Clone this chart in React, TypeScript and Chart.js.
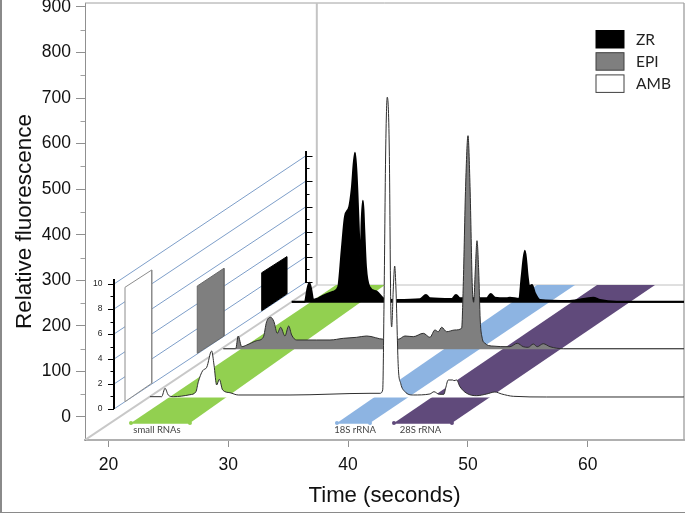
import { useEffect, useRef } from 'react';
import { Chart, registerables } from 'chart.js';

Chart.register(...registerables);

const TIME_MIN = 18.04;
const TIME_MAX = 68.04;
const VALUE_MIN = -50.5;
const VALUE_MAX = 908.7;

const timeTicks = [20, 30, 40, 50, 60];
const valueTicks = [0, 100, 200, 300, 400, 500, 600, 700, 800, 900];
const minorValueTicks = [50, 150, 250, 350, 450, 550, 650, 750, 850];

const ambTime = [23.46, 24.44, 24.72, 24.99, 25.41, 26.8, 27.3, 27.5, 27.86, 28.2, 28.61, 28.81, 29.03, 29.25, 29.53, 30.14, 30.83, 35.15, 41.83, 42.66, 42.89, 43.0, 43.14, 43.27, 43.44, 43.56, 43.64, 43.77, 43.89, 44.0, 44.19, 44.39, 44.75, 45.44, 46.83, 47.17, 47.61, 48.0, 48.14, 48.36, 48.73, 48.84, 49.06, 49.34, 49.9, 50.73, 51.57, 52.26, 52.82, 53.79, 56.58, 68.04];
const ambValue = [44.6, 44.6, 63, 48.3, 44.6, 48.9, 55.5, 77.5, 101.6, 109.1, 144.9, 114.1, 70.2, 82.8, 59.3, 53.3, 48.3, 48.3, 52, 52, 59.3, 250, 586, 702, 586, 250, 197.6, 278.8, 331.4, 278.8, 110.4, 74, 55.5, 48.3, 50.5, 55.5, 49.8, 49.8, 63, 81.2, 81.2, 79.7, 81.2, 66.5, 52, 46.8, 50.5, 54.9, 50.5, 45.4, 43.9, 43.9];
const ambBase = 43;

const epiTime = [29.58, 30.62, 30.83, 31.12, 31.54, 32.37, 32.92, 33.2, 33.54, 33.81, 34.09, 34.37, 34.73, 35.04, 35.29, 35.71, 37.38, 38.49, 39.6, 40.72, 41.55, 43.0, 44.19, 44.75, 45.44, 46.28, 46.83, 47.25, 47.53, 47.81, 48.23, 48.92, 49.48, 49.61, 49.81, 50.01, 50.18, 50.37, 50.48, 50.62, 50.76, 50.9, 51.03, 51.2, 51.43, 51.99, 53.51, 54.12, 54.62, 55.04, 55.46, 55.79, 56.29, 56.85, 57.96, 68.04];
const epiValue = [149.9, 149.9, 177.8, 154.3, 158, 167.5, 174.9, 209.2, 218.8, 209.2, 183.7, 196.9, 177.8, 199.7, 180, 169, 169, 169, 172.7, 174.9, 177.8, 170.6, 170.6, 177.8, 176.3, 183.7, 174.9, 191, 187.2, 196.9, 187.2, 191, 194.7, 286, 505.5, 617.5, 505.5, 286, 251.8, 322.7, 387, 322.7, 212.9, 172.7, 161.8, 155.8, 154.3, 161.8, 154.3, 153, 160.2, 154.3, 160.9, 154.3, 149.9, 149.9];
const epiBase = 148.6;

const zrTime = [35.29, 36.4, 36.59, 36.76, 36.93, 37.09, 37.51, 37.93, 38.76, 39.18, 39.47, 39.74, 40.1, 40.3, 40.58, 40.77, 40.93, 41.05, 41.13, 41.24, 41.35, 41.49, 41.77, 42.39, 42.94, 44.05, 46.0, 46.5, 46.83, 48.65, 49.01, 49.34, 51.57, 51.9, 52.26, 53.24, 53.51, 54.29, 54.49, 54.76, 54.99, 55.12, 55.35, 55.6, 56.01, 58.52, 60.47, 61.03, 62.42, 68.04];
const zrValue = [253.1, 253.1, 278.8, 294.8, 278.8, 256.8, 260.5, 266.3, 275, 286, 366.6, 439.7, 461.6, 498.3, 580.1, 498.3, 388.5, 340.9, 425.2, 474.8, 410.5, 329.9, 286, 275, 260.5, 256.8, 258.4, 267.8, 260.5, 259, 267.8, 260.5, 260.5, 270, 261.9, 260.5, 261.9, 259, 308, 365, 308, 286, 289.7, 271.5, 256.8, 254.6, 261.9, 256.8, 253.1, 253.1];
const zrBase = 250.5;

const bandValue = [-13.2, -13.2, 289.7, 289.7];
const greenBandTime = [21.88, 26.8, 43.08, 38.99];
const blueBandTime = [39.07, 41.83, 58.94, 55.77];
const purpleBandTime = [43.83, 48.67, 65.62, 60.78];

const bandNames = ['small RNAs', '18S rRNA', '28S rRNA'];
const bandNameTime = [24.05, 40.58, 46.04];
const bandNameValue = -28.5;

const wallNearTime = 20.46;
const wallFarTime = 36.49;
const depthLabels = ['0', '2', '4', '6', '8', '10'];
const nearMajor = [17.6, 72.4, 127.2, 182.1, 237, 291.9];
const farMajor = [296.3, 351.8, 406.7, 461.6, 518, 573.5];
const nearMinor = [45, 99.9, 154.7, 209.6, 264.5];
const farMinor = [324.2, 379.1, 434, 489.7, 545.7];
const nearAxisEnds = [17.6, 302.9];
const farAxisEnds = [294, 583.8];

const ambBarTime = [21.38, 21.38, 23.61, 23.61];
const ambBarValue = [33.6, 284.7, 322.7, 74];
const epiBarTime = [27.41, 27.41, 29.64, 29.64];
const epiBarValue = [139.8, 287.5, 326.4, 177.8];
const zrBarTime = [32.79, 32.79, 34.88, 34.88];
const zrBarValue = [233.3, 316.7, 351.8, 270];

const floorCornerTime = 37.39;
const floorCornerValue = 289.7;

const legendNames = ['ZR', 'EPI', 'AMB'];
const legendFills = ['#000000', '#7f7f7f', '#ffffff'];
const legendEdges = ['#000000', '#404040', '#404040'];

const zip = (xs: number[], ys: number[]) => xs.map((x, i) => ({ x, y: ys[i] }));

const line = (data: any[], color: string, width = 1, extra: any = {}) => ({
  type: 'scatter',
  data,
  showLine: true,
  pointRadius: 0,
  pointHoverRadius: 0,
  borderColor: color,
  borderWidth: width,
  tension: 0,
  fill: false,
  ...extra,
});

const polygon = (xs: number[], ys: number[], color: string, edge: string, width: number) => {
  const pts = zip(xs, ys);
  pts.push(pts[0]);
  return line(pts, edge, width, { backgroundColor: color, fill: 'shape', borderJoinStyle: 'miter' });
};

const trace = (xs: number[], ys: number[], base: number, color: string, edge: string, width: number) =>
  line(zip(xs, ys), edge, width, {
    backgroundColor: color,
    fill: { value: base },
    borderJoinStyle: 'round',
    cubicInterpolationMode: 'monotone',
  });

const bandFeet: [number[], string][] = [
  [greenBandTime, '#92d050'],
  [blueBandTime, '#8db4e2'],
  [purpleBandTime, '#604a7b'],
];

const wallDecor = {
  id: 'wallDecor',
  afterDatasetsDraw(chart: any) {
    const { ctx, scales } = chart;
    const { x, y } = scales;
    ctx.save();
    ctx.strokeStyle = '#000';
    ctx.lineWidth = 1;
    const tick = (t: number, v: number, len: number) => {
      const px = x.getPixelForValue(t);
      const py = Math.round(y.getPixelForValue(v)) + 0.5;
      ctx.beginPath();
      ctx.moveTo(px, py);
      ctx.lineTo(px + len, py);
      ctx.stroke();
    };
    nearMajor.forEach((v) => tick(wallNearTime, v, -6));
    nearMinor.forEach((v) => tick(wallNearTime, v, -3.5));
    farMajor.forEach((v) => tick(wallFarTime, v, 6.5));
    farMinor.forEach((v) => tick(wallFarTime, v, 3.5));

    ctx.strokeStyle = '#a0a0a0';
    minorValueTicks.forEach((v) => {
      const py = Math.round(y.getPixelForValue(v)) + 0.5;
      ctx.beginPath();
      ctx.moveTo(chart.chartArea.left - 4.5, py);
      ctx.lineTo(chart.chartArea.left, py);
      ctx.stroke();
    });

    bandFeet.forEach(([times, color]) => {
      ctx.fillStyle = color;
      [times[0], times[1]].forEach((t) => {
        ctx.beginPath();
        ctx.arc(x.getPixelForValue(t), y.getPixelForValue(bandValue[0]), 2, 0, Math.PI * 2);
        ctx.fill();
      });
    });

    ctx.fillStyle = '#222';
    ctx.font = '8.5px "Liberation Sans"';
    ctx.textAlign = 'right';
    ctx.textBaseline = 'middle';
    depthLabels.forEach((label, i) => {
      ctx.fillText(label, x.getPixelForValue(wallNearTime) - 5.5 - 6, y.getPixelForValue(nearMajor[i]));
    });

    ctx.fillStyle = '#444';
    ctx.font = '9.5px Lato';
    ctx.textAlign = 'center';
    bandNames.forEach((name, i) => {
      ctx.fillText(name, x.getPixelForValue(bandNameTime[i]), y.getPixelForValue(bandNameValue));
    });

    ctx.font = '15.5px Lato';
    ctx.textAlign = 'left';
    legendNames.forEach((name, i) => {
      const top = 30.5 + i * 22.2;
      ctx.fillStyle = legendFills[i];
      ctx.strokeStyle = legendEdges[i];
      ctx.lineWidth = 1;
      ctx.fillRect(596, top, 28, 17.5);
      ctx.strokeRect(596, top, 28, 17.5);
      ctx.fillStyle = '#222';
      ctx.fillText(name, 636, top + 9);
    });
    ctx.restore();
  },
};

export default function App() {
  const ref = useRef<HTMLCanvasElement>(null);

  useEffect(() => {
    const datasets: any[] = [
      // topmost first: Chart.js paints the last dataset first
      line(zip([wallNearTime, wallNearTime], nearAxisEnds), '#000', 2),
      line(zip([wallFarTime, wallFarTime], farAxisEnds), '#000', 2),
      trace(ambTime, ambValue, ambBase, '#ffffff', '#2e2e2e', 1),
      trace(epiTime, epiValue, epiBase, '#7f7f7f', '#2e2e2e', 1),
      trace(zrTime, zrValue, zrBase, '#000000', '#000000', 2),
      line(zip([greenBandTime[0], greenBandTime[1]], [bandValue[0], bandValue[1]]), '#92d050', 1.5),
      line(zip([blueBandTime[0], blueBandTime[1]], [bandValue[0], bandValue[1]]), '#8db4e2', 1.5),
      line(zip([purpleBandTime[0], purpleBandTime[1]], [bandValue[0], bandValue[1]]), '#604a7b', 1.5),
      polygon(purpleBandTime, bandValue, '#604a7b', '#604a7b', 0),
      polygon(blueBandTime, bandValue, '#8db4e2', '#8db4e2', 0),
      polygon(greenBandTime, bandValue, '#92d050', '#92d050', 0),
      polygon(ambBarTime, ambBarValue, '#ffffff', '#8c8c8c', 1),
      polygon(epiBarTime, epiBarValue, '#7f7f7f', '#6a6a6a', 1),
      polygon(zrBarTime, zrBarValue, '#000000', '#000000', 1),
      ...nearMajor.map((v, i) => line(zip([wallNearTime, wallFarTime], [v, farMajor[i]]), '#7d9ec9', 1)),
      line(zip([TIME_MIN, floorCornerTime], [VALUE_MIN, floorCornerValue]), '#c8c8c8', 2),
      line(zip([floorCornerTime, floorCornerTime], [floorCornerValue, VALUE_MAX]), '#c4c4c4', 2),
      line(zip([floorCornerTime, TIME_MAX], [floorCornerValue, floorCornerValue]), '#c0c0c0', 1),
      line(zip([TIME_MIN, TIME_MAX], [VALUE_MAX, VALUE_MAX]), '#a0a0a0', 1, { clip: false }),
      line(zip([TIME_MAX, TIME_MAX], [VALUE_MIN, VALUE_MAX]), '#aaaaaa', 1.5, { clip: false }),
    ];

    const chart = new Chart(ref.current as HTMLCanvasElement, {
      type: 'scatter',
      data: { datasets },
      plugins: [wallDecor],
      options: {
        responsive: false,
        animation: false,
        layout: { padding: { top: 3, right: 1, left: 0, bottom: 0 } },
        plugins: { legend: { display: false }, tooltip: { enabled: false } },
        scales: {
          x: {
            type: 'linear',
            min: TIME_MIN,
            max: TIME_MAX,
            afterBuildTicks: (s: any) => { s.ticks = timeTicks.map((value) => ({ value })); },
            afterFit: (s: any) => { s.height = 73; s.paddingLeft = 0; s.paddingRight = 0; },
            ticks: {
              autoSkip: false,
              maxRotation: 0,
              padding: 8,
              color: '#111',
              font: { family: 'Liberation Sans', size: 17.5 },
            },
            grid: { drawOnChartArea: false, drawTicks: true, tickLength: 7, tickColor: '#909090' },
            border: { color: '#b0b0b0', width: 2 },
            title: {
              display: true,
              text: 'Time (seconds)',
              color: '#111',
              font: { family: 'Liberation Sans', size: 22.2 },
              padding: { top: 0, bottom: 4 },
            },
          },
          y: {
            type: 'linear',
            min: VALUE_MIN,
            max: VALUE_MAX,
            afterBuildTicks: (s: any) => { s.ticks = valueTicks.map((value) => ({ value })); },
            afterFit: (s: any) => { s.width = 85; s.paddingTop = 0; s.paddingBottom = 0; },
            ticks: {
              autoSkip: false,
              padding: 5,
              color: '#111',
              font: { family: 'Liberation Sans', size: 17.5 },
            },
            grid: { drawOnChartArea: false, drawTicks: true, tickLength: 9, tickColor: '#909090' },
            border: { color: '#909090', width: 1 },
            title: {
              display: true,
              text: 'Relative fluorescence',
              color: '#111',
              font: { family: 'Liberation Sans', size: 22.5 },
              padding: { top: 11, bottom: 0 },
            },
          },
        },
      },
    } as any);
    return () => chart.destroy();
  }, []);

  return (
    <div style={{ position: 'absolute', left: 0, top: 0, width: 685, height: 513, background: '#fff' }}>
      <canvas ref={ref} width={685} height={513} style={{ display: 'block' }} />
      <div
        style={{
          position: 'absolute',
          inset: 0,
          boxSizing: 'border-box',
          borderLeft: '2px solid #8a8a8a',
          borderBottom: '1px solid #8a8a8a',
          pointerEvents: 'none',
        }}
      />
    </div>
  );
}
